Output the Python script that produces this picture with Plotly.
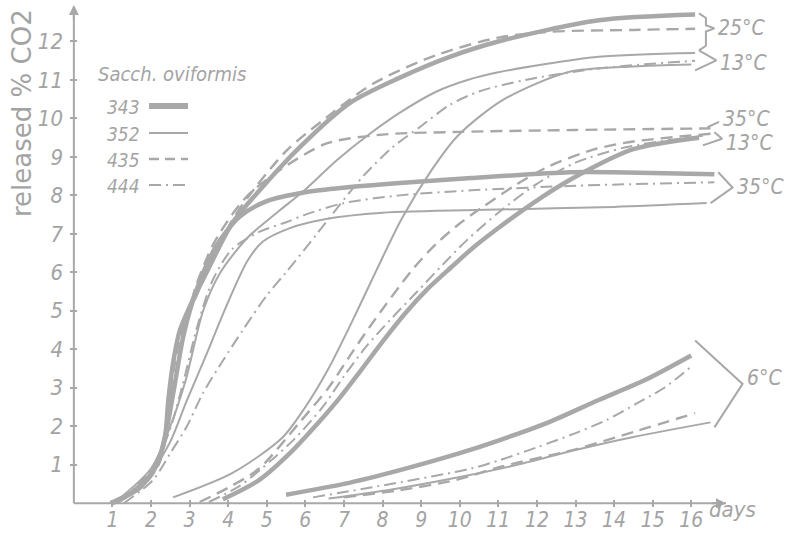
import plotly.graph_objects as go

# ---------------- data (days, % CO2 released) ----------------
# 25 °C
d_343_25 = [0.95, 1.7, 2.15, 2.36, 2.45, 2.58, 2.75, 3.0, 3.44, 4.1, 4.74, 5.85, 7.15, 8.45, 9.74, 11.0, 13.6, 16.1]
v_343_25 = [0.0, 0.4, 1.0, 1.7, 2.7, 3.7, 4.5, 5.1, 6.0, 7.27, 8.05, 9.25, 10.4, 11.06, 11.6, 12.0, 12.55, 12.7]
d_435_25 = [1.1, 1.8, 2.2, 2.4, 2.5, 2.63, 2.8, 3.05, 3.5, 4.1, 4.7, 5.5, 6.45, 7.75, 9.4, 11.0, 12.3, 14.5, 16.1]
v_435_25 = [0.0, 0.45, 1.0, 1.8, 2.8, 3.7, 4.5, 5.1, 6.1, 7.35, 8.2, 9.15, 9.95, 10.9, 11.65, 12.1, 12.25, 12.3, 12.33]
d_352_25 = [1.1, 2.0, 2.5, 2.9, 3.35, 3.8, 4.5, 5.26, 5.94, 6.8, 7.67, 8.45, 9.4, 10.2, 11.0, 13.6, 16.1]
v_352_25 = [0.05, 0.9, 2.0, 3.2, 5.0, 6.0, 6.9, 7.55, 8.1, 8.9, 9.6, 10.15, 10.7, 11.0, 11.2, 11.6, 11.7]
d_444_25 = [1.3, 2.05, 2.5, 2.93, 3.34, 3.86, 4.38, 5.0, 5.5, 6.3, 7.5, 8.26, 8.96, 9.74, 10.5, 11.7, 13.6, 16.1]
v_444_25 = [0.0, 0.6, 1.3, 2.0, 2.85, 3.7, 4.5, 5.4, 6.0, 7.0, 8.5, 9.25, 9.77, 10.35, 10.7, 11.0, 11.3, 11.5]

# 35 °C
d_343_35 = [1.0, 1.7, 2.15, 2.4, 2.6, 2.85, 3.2, 3.7, 4.3, 5.0, 6.0, 7.0, 8.45, 10.3, 12.85, 14.0, 16.6]
v_343_35 = [0.0, 0.4, 1.0, 1.9, 3.0, 4.4, 5.6, 6.7, 7.45, 7.85, 8.08, 8.2, 8.32, 8.45, 8.6, 8.6, 8.55]
d_444_35 = [1.2, 2.0, 2.45, 2.8, 3.2, 3.6, 4.1, 4.8, 5.5, 6.0, 7.0, 8.45, 10.3, 13.0, 16.6]
v_444_35 = [0.05, 0.85, 1.8, 3.0, 4.6, 5.8, 6.6, 7.05, 7.3, 7.5, 7.8, 8.0, 8.13, 8.25, 8.34]
d_352_35 = [1.2, 2.0, 2.5, 2.9, 3.45, 3.9, 4.5, 4.9, 5.6, 6.5, 8.0, 11.0, 14.0, 16.4]
v_352_35 = [0.05, 0.8, 1.6, 2.6, 3.9, 5.0, 6.3, 6.8, 7.15, 7.38, 7.55, 7.63, 7.7, 7.8]
d_435_35 = [1.0, 1.7, 2.15, 2.4, 2.6, 2.85, 3.15, 3.6, 4.1, 4.56, 5.4, 6.55, 8.0, 10.0, 13.0, 16.5]
v_435_35 = [0.0, 0.4, 1.0, 1.9, 3.0, 4.4, 5.6, 6.7, 7.5, 8.05, 8.7, 9.35, 9.58, 9.65, 9.7, 9.74]

# 13 °C
d_352_13 = [2.57, 4.1, 5.4, 6.0, 6.6, 7.2, 7.84, 8.5, 9.3, 9.95, 11.1, 12.8, 14.5, 16.0]
v_352_13 = [0.15, 0.78, 1.7, 2.5, 3.5, 4.7, 6.05, 7.4, 8.7, 9.55, 10.47, 11.2, 11.35, 11.4]
d_343_13 = [3.86, 4.8, 5.6, 6.3, 6.9, 7.4, 8.0, 8.6, 9.2, 9.8, 10.3, 11.0, 11.9, 12.85, 14.5, 16.2]
v_343_13 = [0.1, 0.6, 1.3, 2.05, 2.75, 3.4, 4.2, 4.95, 5.6, 6.15, 6.6, 7.15, 7.8, 8.4, 9.2, 9.5]
d_435_13 = [3.26, 4.0, 4.8, 5.85, 6.6, 7.2, 7.75, 8.8, 9.4, 10.0, 10.6, 11.5, 12.3, 13.5, 14.5, 16.5]
v_435_13 = [0.03, 0.4, 0.9, 2.1, 3.0, 3.9, 4.7, 6.1, 6.75, 7.27, 7.7, 8.3, 8.75, 9.2, 9.4, 9.6]
d_444_13 = [3.5, 4.3, 5.1, 5.7, 6.45, 7.0, 7.6, 8.26, 8.9, 9.56, 10.2, 11.0, 12.0, 13.0, 14.3, 16.3]
v_444_13 = [0.03, 0.45, 1.1, 1.65, 2.5, 3.3, 4.1, 4.83, 5.5, 6.2, 6.85, 7.55, 8.3, 8.85, 9.25, 9.55]

# 6 °C
d_343_6 = [5.5, 7.0, 8.45, 10.0, 11.04, 12.3, 13.6, 14.8, 16.0]
v_343_6 = [0.22, 0.5, 0.86, 1.3, 1.64, 2.1, 2.68, 3.2, 3.84]
d_444_6 = [6.2, 8.5, 10.3, 11.04, 12.0, 13.0, 13.8, 14.6, 15.3, 16.0]
v_444_6 = [0.15, 0.55, 0.9, 1.12, 1.45, 1.82, 2.16, 2.6, 3.0, 3.55]
d_435_6 = [7.0, 8.45, 9.9, 11.04, 13.0, 14.5, 16.1]
v_435_6 = [0.15, 0.34, 0.6, 0.94, 1.4, 1.85, 2.34]
d_352_6 = [6.6, 8.2, 10.0, 11.5, 13.0, 14.5, 16.5]
v_352_6 = [0.12, 0.35, 0.68, 1.0, 1.38, 1.72, 2.1]

strains = ["343", "352", "435", "444"]
legend_title = "Sacch. oviformis"
x_ticks = list(range(1, 17))
y_ticks = list(range(1, 13))

CURVES = {
    "343_25": (d_343_25, v_343_25), "435_25": (d_435_25, v_435_25),
    "352_25": (d_352_25, v_352_25), "444_25": (d_444_25, v_444_25),
    "343_35": (d_343_35, v_343_35), "444_35": (d_444_35, v_444_35),
    "352_35": (d_352_35, v_352_35), "435_35": (d_435_35, v_435_35),
    "352_13": (d_352_13, v_352_13), "343_13": (d_343_13, v_343_13),
    "435_13": (d_435_13, v_435_13), "444_13": (d_444_13, v_444_13),
    "343_6": (d_343_6, v_343_6), "444_6": (d_444_6, v_444_6),
    "435_6": (d_435_6, v_435_6), "352_6": (d_352_6, v_352_6),
}

# temperature brackets: label, members, depth, pad_top, pad_bottom, label yshift, kind
BRACKETS = [
    ("25°C", ["343_25", "352_25"], 0.40, 0.03, -0.07, 0, "brace"),
    ("13°C", ["352_25", "352_13"], 0.45, 0.07, 0.15, -3, "angle"),
    ("35°C", ["435_35"], 0.30, 0.03, 0.0, 3, "tick"),
    ("13°C", ["435_13", "343_13"], 0.20, 0.04, 0.20, -4, "angle"),
    ("35°C", ["343_35", "352_35"], 0.37, 0.05, 0.0, 1, "angle"),
    ("6°C", ["343_6", "352_6"], 0.73, 0.39, 0.13, 6, "angle"),
]

# ---------------- styling ----------------
GRAY = "#a8a8a8"
TXT = "#a3a3a3"
HAND = "DejaVu Sans Condensed, DejaVu Sans, sans-serif"
STYLE = {
    "343": dict(width=4.5, dash="solid"),
    "352": dict(width=2.0, dash="solid"),
    "435": dict(width=2.4, dash="12px,7px"),
    "444": dict(width=2.0, dash="12px,5px,2px,5px"),
}

W, H = 789, 533
ML, MR, MT, MB = 70, 36, 3, 26
X_RANGE = [-0.1, 17.6]
Y_RANGE = [-0.1, 13.0]
X_AXIS_END = 16.9
Y_AXIS_END = 12.9


def px(x):
    return (x - ML) / (W - ML - MR)


def py(y):
    return (H - MB - y) / (H - MT - MB)


fig = go.Figure()

for key, (d, v) in CURVES.items():
    st = STYLE[key.split("_")[0]]
    fig.add_trace(go.Scatter(
        x=d, y=v, mode="lines", hoverinfo="skip", showlegend=False,
        line=dict(color=GRAY, width=st["width"], dash=st["dash"],
                  shape="spline", smoothing=0.8)))

# hand drawn axes
fig.add_trace(go.Scatter(x=[0, X_AXIS_END], y=[0, 0], mode="lines", hoverinfo="skip",
                         showlegend=False, line=dict(color=GRAY, width=2)))
fig.add_trace(go.Scatter(x=[0, 0], y=[0, Y_AXIS_END], mode="lines", hoverinfo="skip",
                         showlegend=False, line=dict(color=GRAY, width=2)))

annotations = [
    dict(x=X_AXIS_END, y=0, xref="x", yref="y", ax=-16, ay=0, showarrow=True,
         arrowhead=2, arrowsize=1, arrowwidth=2, arrowcolor=GRAY, text=""),
    dict(x=0, y=Y_AXIS_END + 0.05, xref="x", yref="y", ax=0, ay=16, showarrow=True,
         arrowhead=2, arrowsize=1, arrowwidth=2, arrowcolor=GRAY, text=""),
    dict(x=px(22), y=py(113), xref="paper", yref="paper", text="released % CO2",
         textangle=-90, showarrow=False, xanchor="center", yanchor="middle",
         font=dict(family="DejaVu Sans, sans-serif", size=26, color=TXT)),
    dict(x=px(707), y=py(509), xref="paper", yref="paper", text="days",
         showarrow=False, xanchor="left", yanchor="middle",
         font=dict(family=HAND, size=22, color=TXT, style="italic")),
    dict(x=px(96), y=py(74), xref="paper", yref="paper", text=legend_title,
         showarrow=False, xanchor="left", yanchor="middle",
         font=dict(family=HAND, size=20, color=TXT, style="italic")),
]

shapes = []
legend_y = [107, 134, 160, 186]
for s, yy in zip(strains, legend_y):
    annotations.append(dict(x=px(105), y=py(yy), xref="paper", yref="paper", text=s,
                            showarrow=False, xanchor="left", yanchor="middle",
                            font=dict(family=HAND, size=19, color=TXT, style="italic")))
    st = STYLE[s]
    shapes.append(dict(type="line", xref="paper", yref="paper",
                       x0=px(149), x1=px(188), y0=py(yy - 1), y1=py(yy - 1),
                       line=dict(color=GRAY, width=st["width"] + (1.5 if s == "343" else 0),
                                 dash=st["dash"] if s != "435" else "10px,6px")))

# brackets built from the curve end points
for label, members, depth, pad_t, pad_b, yshift, kind in BRACKETS:
    ends = [(CURVES[m][0][-1], CURVES[m][1][-1]) for m in members]
    top = max(ends, key=lambda e: e[1])
    bot = min(ends, key=lambda e: e[1])
    xt, yt = top[0] + 0.1, top[1] + pad_t
    xb, yb = bot[0] + 0.1, bot[1] - pad_b
    if kind == "tick":
        x0, y0 = top[0] - 0.08, top[1] + 0.03
        x1, y1 = x0 + depth, y0 + 0.14
        bx, by = [x0, x1], [y0, y1]
        tipx, tipy = x1, y1
    elif kind == "brace":
        tipx = max(xt, xb) + depth
        tipy = (yt + yb) / 2 + 0.09
        mx = max(xt, xb) + depth * 0.45
        bx = [xt, mx, mx, tipx, mx, mx, xb]
        by = [yt, yt - 0.12, tipy + 0.08, tipy, tipy - 0.08, yb + 0.12, yb]
    else:
        tipx = max(xt, xb) + depth
        tipy = (yt + yb) / 2
        bx, by = [xt, tipx, xb], [yt, tipy, yb]
    fig.add_trace(go.Scatter(x=bx, y=by, mode="lines", hoverinfo="skip", showlegend=False,
                             line=dict(color=GRAY, width=2)))
    annotations.append(dict(x=tipx, y=tipy, xref="x", yref="y", text=label,
                            showarrow=False, xanchor="left", yanchor="middle",
                            xshift=2, yshift=yshift,
                            font=dict(family=HAND, size=21, color=TXT, style="italic")))

fig.update_layout(
    width=W, height=H,
    margin=dict(l=ML, r=MR, t=MT, b=MB, autoexpand=False),
    paper_bgcolor="white", plot_bgcolor="white",
    showlegend=False,
    annotations=annotations, shapes=shapes,
    xaxis=dict(range=X_RANGE, showgrid=False, zeroline=False, showline=False,
               automargin=False,
               tickmode="array", tickvals=x_ticks, ticktext=[str(t) for t in x_ticks],
               ticks="inside", ticklen=7, tickwidth=2, tickcolor=GRAY,
               ticklabelstandoff=-2,
               tickfont=dict(family=HAND, size=21, color=TXT, style="italic")),
    yaxis=dict(range=Y_RANGE, showgrid=False, zeroline=False, showline=False,
               automargin=False,
               tickmode="array", tickvals=y_ticks, ticktext=[str(t) for t in y_ticks],
               ticks="inside", ticklen=7, tickwidth=2, tickcolor=GRAY,
               ticklabelstandoff=6,
               tickfont=dict(family=HAND, size=22, color=TXT, style="italic")),
)

fig.write_html("out.html", config={"displayModeBar": False},
               post_script="document.body.style.margin='0px';document.body.style.padding='0px';")
